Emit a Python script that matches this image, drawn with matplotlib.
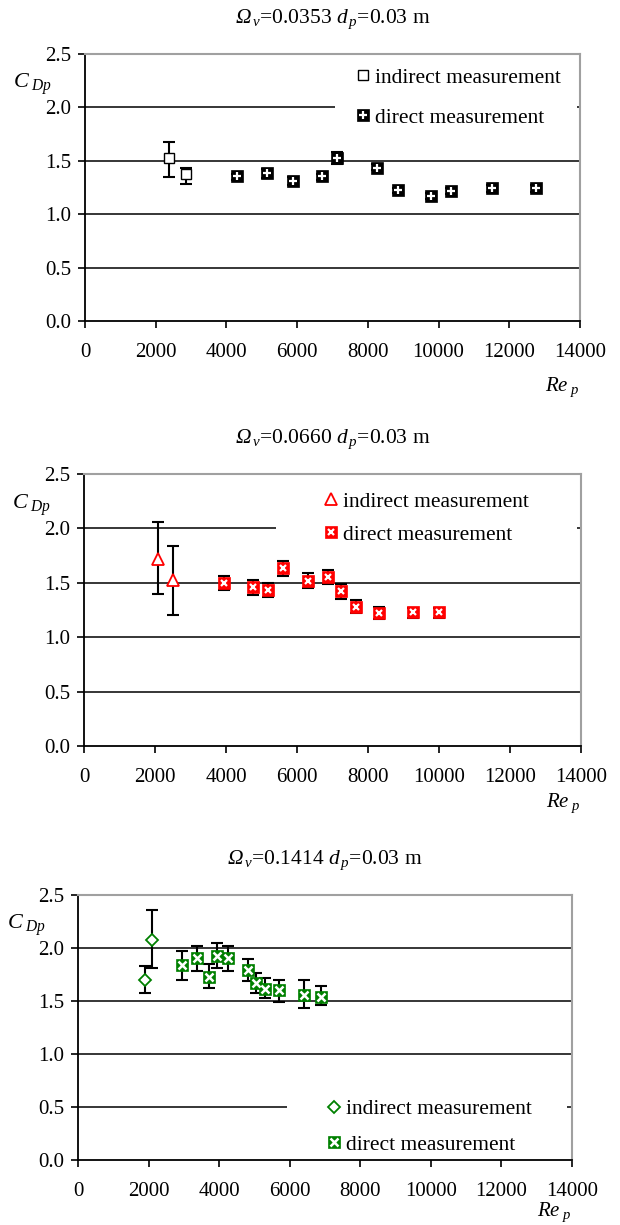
import matplotlib
matplotlib.use("Agg")
import matplotlib.pyplot as plt
from matplotlib.patches import Rectangle

plt.rcParams['font.family'] = ['Liberation Serif', 'DejaVu Serif']
plt.rcParams['mathtext.fontset'] = 'custom'
plt.rcParams['mathtext.rm'] = 'Liberation Serif'
plt.rcParams['mathtext.it'] = 'Liberation Serif:italic'
plt.rcParams['mathtext.sf'] = 'Liberation Serif:italic'

# ---------------- data ----------------
titles = [r'$\mathsf{\Omega}_{\,v}$=0.0353 $d_{\,p}$=0.03 m',
          r'$\mathsf{\Omega}_{\,v}$=0.0660 $d_{\,p}$=0.03 m',
          r'$\mathsf{\Omega}_{\,v}$=0.1414 $d_{\,p}$=0.03 m']
legend_labels = ['indirect measurement', 'direct measurement']
x_ticks = [0, 2000, 4000, 6000, 8000, 10000, 12000, 14000]
y_ticks = [0.0, 0.5, 1.0, 1.5, 2.0, 2.5]

# panel 1
p1_ind_x = [2376, 2848]
p1_ind_y = [1.525, 1.376]
p1_ind_lo = [1.344, 1.282]
p1_ind_hi = [1.678, 1.437]
p1_dir_x = [4307, 5139, 5891, 6694, 7127, 8250, 8861, 9786, 10343, 11502, 12755]
p1_dir_y = [1.353, 1.385, 1.313, 1.353, 1.525, 1.437, 1.226, 1.173, 1.220, 1.241, 1.241]
p1_dir_lo = [1.32, 1.34, 1.27, 1.32, 1.47, 1.41, 1.20, 1.14, 1.19, 1.21, 1.21]
p1_dir_hi = [1.38, 1.42, 1.35, 1.38, 1.58, 1.47, 1.25, 1.20, 1.25, 1.27, 1.27]

# panel 2
p2_ind_x = [2094, 2498]
p2_ind_y = [1.721, 1.525]
p2_ind_lo = [1.393, 1.206]
p2_ind_hi = [2.060, 1.834]
p2_dir_x = [3944, 4770, 5193, 5597, 6318, 6865, 7231, 7662, 8310, 9277, 10000]
p2_dir_y = [1.494, 1.460, 1.430, 1.635, 1.520, 1.552, 1.423, 1.282, 1.221, 1.230, 1.230]
p2_dir_lo = [1.433, 1.390, 1.368, 1.558, 1.450, 1.490, 1.353, 1.224, 1.170, 1.180, 1.180]
p2_dir_hi = [1.558, 1.528, 1.497, 1.696, 1.589, 1.620, 1.485, 1.344, 1.276, 1.270, 1.270]

# panel 3
p3_ind_x = [1899, 2088]
p3_ind_y = [1.702, 2.080]
p3_ind_lo = [1.580, 1.814]
p3_ind_hi = [1.830, 2.355]
p3_dir_x = [2938, 3363, 3703, 3930, 4242, 4809, 5036, 5300, 5696, 6404, 6887]
p3_dir_y = [1.843, 1.904, 1.728, 1.920, 1.904, 1.792, 1.670, 1.615, 1.600, 1.558, 1.535]
p3_dir_lo = [1.702, 1.782, 1.622, 1.814, 1.782, 1.686, 1.580, 1.526, 1.494, 1.430, 1.462]
p3_dir_hi = [1.974, 2.022, 1.846, 2.048, 2.022, 1.894, 1.766, 1.718, 1.702, 1.702, 1.638]

# ---------------- layout / style ----------------
W, H = 620, 1225
fig = plt.figure(figsize=(W / 100, H / 100), dpi=100)

def frac_rect(left, right, top, bottom):
    return [left / W, 1 - bottom / H, (right - left) / W, (bottom - top) / H]

panels = [
    dict(rect=frac_rect(85, 580, 54, 321), title=titles[0],
         ind=(p1_ind_x, p1_ind_y, p1_ind_lo, p1_ind_hi),
         dir=(p1_dir_x, p1_dir_y, p1_dir_lo, p1_dir_hi),
         color='black', ind_marker='s', ind_ms=7.5, ind_mew=1.0,
         dir_sym='+', dir_sym_ms=5.5, dir_sym_mew=1.6,
         box=(0.505, 0.994, 0.70, 0.99), leg_anchor=(0.548, 0.948), leg_spacing=0.92,
         re_y=-0.247),
    dict(rect=frac_rect(84, 581, 474, 746), title=titles[1],
         ind=(p2_ind_x, p2_ind_y, p2_ind_lo, p2_ind_hi),
         dir=(p2_dir_x, p2_dir_y, p2_dir_lo, p2_dir_hi),
         color='#ff0000', ind_marker='^', ind_ms=9, ind_mew=1.3,
         dir_sym='x', dir_sym_ms=5, dir_sym_mew=1.6,
         box=(0.386, 0.992, 0.72, 0.96), leg_anchor=(0.483, 0.934), leg_spacing=0.6,
         re_y=-0.21),
    dict(rect=frac_rect(78, 572, 895, 1160), title=titles[2],
         ind=(p3_ind_x, p3_ind_y, p3_ind_lo, p3_ind_hi),
         dir=(p3_dir_x, p3_dir_y, p3_dir_lo, p3_dir_hi),
         color='#008000', ind_marker='D', ind_ms=6.5, ind_mew=1.3,
         dir_sym='x', dir_sym_ms=5.5, dir_sym_mew=1.8,
         box=(0.423, 0.99, 0.01, 0.30), leg_anchor=(0.505, 0.23), leg_spacing=0.72,
         re_y=-0.196),
]

FS = 15
LFS = 15.5

for p in panels:
    ax = fig.add_axes(p['rect'])
    ax.set_xlim(0, 14000)
    ax.set_ylim(0, 2.5)
    ax.set_xticks(x_ticks)
    ax.set_xticklabels([str(t) for t in x_ticks], fontsize=FS)
    ax.set_yticks(y_ticks)
    ax.set_yticklabels(['%.1f' % t for t in y_ticks], fontsize=FS)
    ax.tick_params(axis='both', direction='out', length=5, width=1.2, color='black')
    ax.tick_params(axis='x', pad=11)
    ax.tick_params(axis='y', pad=5)
    for s in ['left', 'bottom']:
        ax.spines[s].set_color('black')
        ax.spines[s].set_linewidth(1.3)
    for s in ['top', 'right']:
        ax.spines[s].set_color('#a0a0a0')
        ax.spines[s].set_linewidth(1.5)
    for yv in y_ticks[1:-1]:
        ax.axhline(yv, color='black', lw=1.1, zorder=1)
    # white legend background covering gridlines
    bx0, bx1, by0, by1 = p['box']
    ax.add_patch(Rectangle((bx0, by0), bx1 - bx0, by1 - by0, transform=ax.transAxes,
                           facecolor='white', edgecolor='none', zorder=1.5))

    c = p['color']
    ix, iy, ilo, ihi = p['ind']
    dx, dy, dlo, dhi = p['dir']
    ax.errorbar(ix, iy, yerr=[[a - b for a, b in zip(iy, ilo)], [b - a for a, b in zip(iy, ihi)]],
                fmt='none', ecolor='black', elinewidth=1.5, capsize=4.5, capthick=1.5, zorder=2)
    ax.errorbar(dx, dy, yerr=[[a - b for a, b in zip(dy, dlo)], [b - a for a, b in zip(dy, dhi)]],
                fmt='none', ecolor='black', elinewidth=1.5, capsize=4.5, capthick=1.5, zorder=2)
    h_ind, = ax.plot(ix, iy, linestyle='none', marker=p['ind_marker'], ms=p['ind_ms'],
                     mfc='white', mec=c, mew=p['ind_mew'], zorder=3)
    h_sq, = ax.plot(dx, dy, linestyle='none', marker='s', ms=9, mfc=c, mec=c, mew=0.5, zorder=3)
    h_sym, = ax.plot(dx, dy, linestyle='none', marker=p['dir_sym'], ms=p['dir_sym_ms'],
                     mec='white', mew=p['dir_sym_mew'], zorder=4)

    ax.legend([h_ind, (h_sq, h_sym)], legend_labels, loc='upper left',
              bbox_to_anchor=p['leg_anchor'], frameon=False, fontsize=LFS,
              handlelength=0.6, handletextpad=0.26, labelspacing=p['leg_spacing'],
              borderpad=0, borderaxespad=0)

    ax.set_title(p['title'], fontsize=15.5, pad=22)
    ax.text(-0.105, 0.885, r'$C_{\ Dp}$', transform=ax.transAxes, fontsize=FS + 1,
            ha='center', va='center')
    ax.text(1.0, p['re_y'], r'$Re_{\ p}$', transform=ax.transAxes, fontsize=FS,
            ha='right', va='center')

fig.savefig('out.png', dpi=100)
